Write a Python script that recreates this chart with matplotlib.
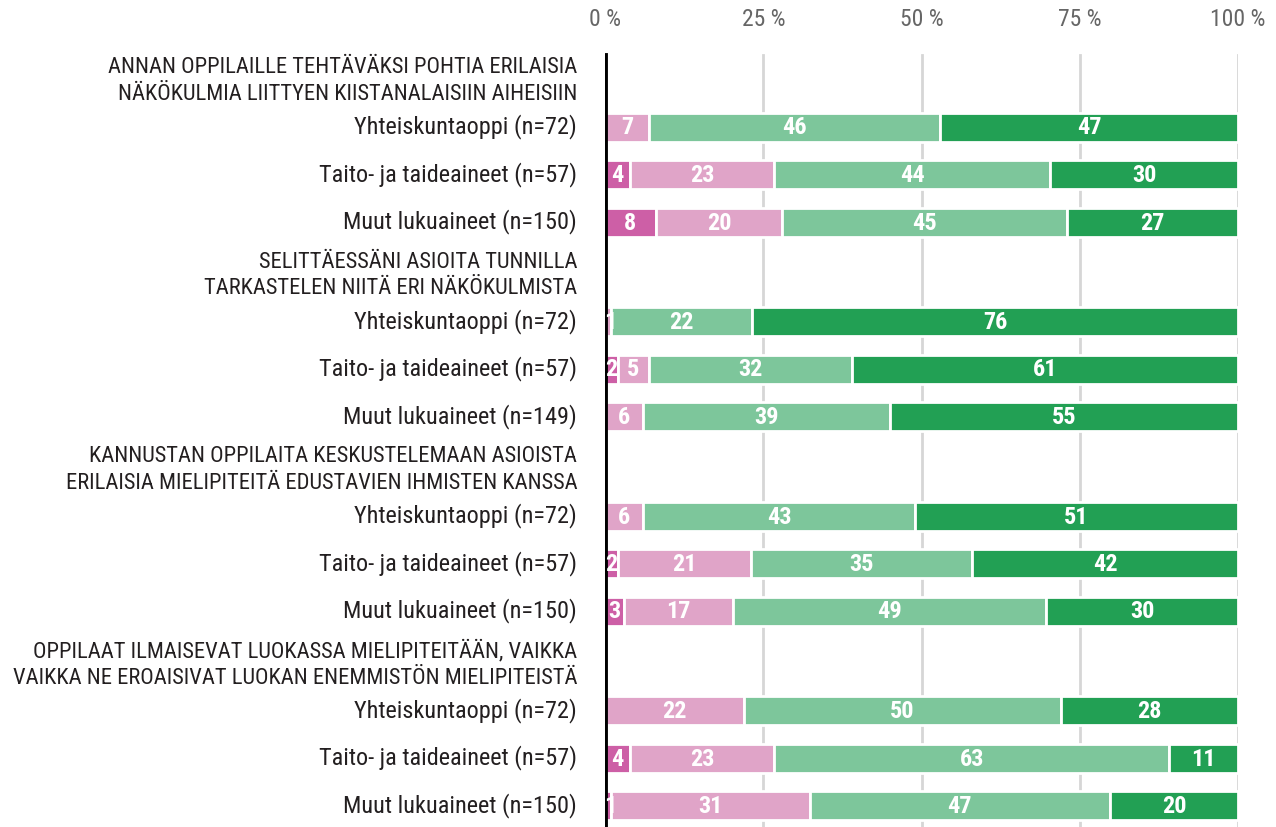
import matplotlib
matplotlib.use("Agg")
import matplotlib.pyplot as plt
from matplotlib import font_manager as fm
import numpy as np

# Kapea fontti, jos löytyy
narrow = None
for f in fm.fontManager.ttflist:
    if f.name in ("Liberation Sans Narrow", "Roboto Condensed", "Open Sans Condensed", "Noto Sans Condensed"):
        narrow = (f.name, "normal")
        break
    if f.name == "DejaVu Sans" and f.stretch == "condensed":
        narrow = ("DejaVu Sans", "condensed")
if narrow:
    plt.rcParams['font.family'] = [narrow[0], 'DejaVu Sans']
    plt.rcParams['font.stretch'] = narrow[1]
    scale = 1.0
else:
    plt.rcParams['font.family'] = ['DejaVu Sans']
    scale = 0.84

# Kysymykset ja ryhmät
questions = [
    "ANNAN OPPILAILLE TEHTÄVÄKSI POHTIA ERILAISIA\nNÄKÖKULMIA LIITTYEN KIISTANALAISIIN AIHEISIIN",
    "SELITTÄESSÄNI ASIOITA TUNNILLA\nTARKASTELEN NIITÄ ERI NÄKÖKULMISTA",
    "KANNUSTAN OPPILAITA KESKUSTELEMAAN ASIOISTA\nERILAISIA MIELIPITEITÄ EDUSTAVIEN IHMISTEN KANSSA",
    "OPPILAAT ILMAISEVAT LUOKASSA MIELIPITEITÄÄN, VAIKKA\nVAIKKA NE EROAISIVAT LUOKAN ENEMMISTÖN MIELIPITEISTÄ",
]
groups = [
    ["Yhteiskuntaoppi (n=72)", "Taito- ja taideaineet (n=57)", "Muut lukuaineet (n=150)"],
    ["Yhteiskuntaoppi (n=72)", "Taito- ja taideaineet (n=57)", "Muut lukuaineet (n=149)"],
    ["Yhteiskuntaoppi (n=72)", "Taito- ja taideaineet (n=57)", "Muut lukuaineet (n=150)"],
    ["Yhteiskuntaoppi (n=72)", "Taito- ja taideaineet (n=57)", "Muut lukuaineet (n=150)"],
]

# Osuudet: täysin eri mieltä, jokseenkin eri mieltä, jokseenkin samaa mieltä, täysin samaa mieltä
strongly_disagree = [[0, 4, 8], [0, 2, 0], [0, 2, 3], [0, 4, 1]]
disagree = [[7, 23, 20], [1, 5, 6], [6, 21, 17], [22, 23, 31]]
agree = [[46, 44, 45], [22, 32, 39], [43, 35, 49], [50, 63, 47]]
strongly_agree = [[47, 30, 27], [76, 61, 55], [51, 42, 30], [28, 11, 20]]

colors = ["#cd5fa6", "#e0a4c8", "#7dc69b", "#22a054"]
ticks = [0, 25, 50, 75, 100]
tick_labels = ["0 %", "25 %", "50 %", "75 %", "100 %"]

text_color = "#231f20"
fig = plt.figure(figsize=(12.76, 8.27), dpi=100)
ax = fig.add_axes([605 / 1276, 0, 633 / 1276, 777 / 827])
ax.set_xlim(0, 100)
ax.set_ylim(827, 50)

row_gap = 47.5
group_gap = 194.5
first_row = 127

for g in range(len(questions)):
    y0 = first_row + g * group_gap
    ax.text(-4.4, y0 - 46, questions[g], ha="right", va="center", fontsize=16.2 * scale,
            linespacing=1.35, color=text_color, clip_on=False)
    for i in range(3):
        y = y0 + i * row_gap
        vals = np.array([strongly_disagree[g][i], disagree[g][i], agree[g][i], strongly_agree[g][i]], float)
        widths = vals / vals.sum() * 100
        left = 0
        for k in range(4):
            if vals[k] > 0:
                ax.barh(y, widths[k], left=left, height=29, color=colors[k],
                        edgecolor="white", linewidth=2, zorder=3)
                ax.text(max(left + widths[k] / 2, 0.8), y + 1, str(int(vals[k])), ha="center", va="center",
                        color="white", fontsize=17.5 * scale, fontweight="bold", zorder=6)
            left += widths[k]
        ax.text(-4.4, y, groups[g][i], ha="right", va="center", fontsize=17.5 * scale,
                color=text_color, clip_on=False)

for t in ticks[1:]:
    ax.axvline(t, ymin=0, ymax=(827 - 55) / 777, color="#d6d6d6", linewidth=2, zorder=1)
ax.axvline(0, ymin=0, ymax=(827 - 55) / 777, color="black", linewidth=3.5, zorder=5)

ax.set_xticks(ticks)
ax.set_xticklabels(tick_labels, color="#666666", fontsize=17 * scale)
ax.xaxis.tick_top()
ax.tick_params(axis="x", length=0, pad=14)
ax.set_yticks([])
for s in ax.spines.values():
    s.set_visible(False)

fig.savefig("out.png", dpi=100)
